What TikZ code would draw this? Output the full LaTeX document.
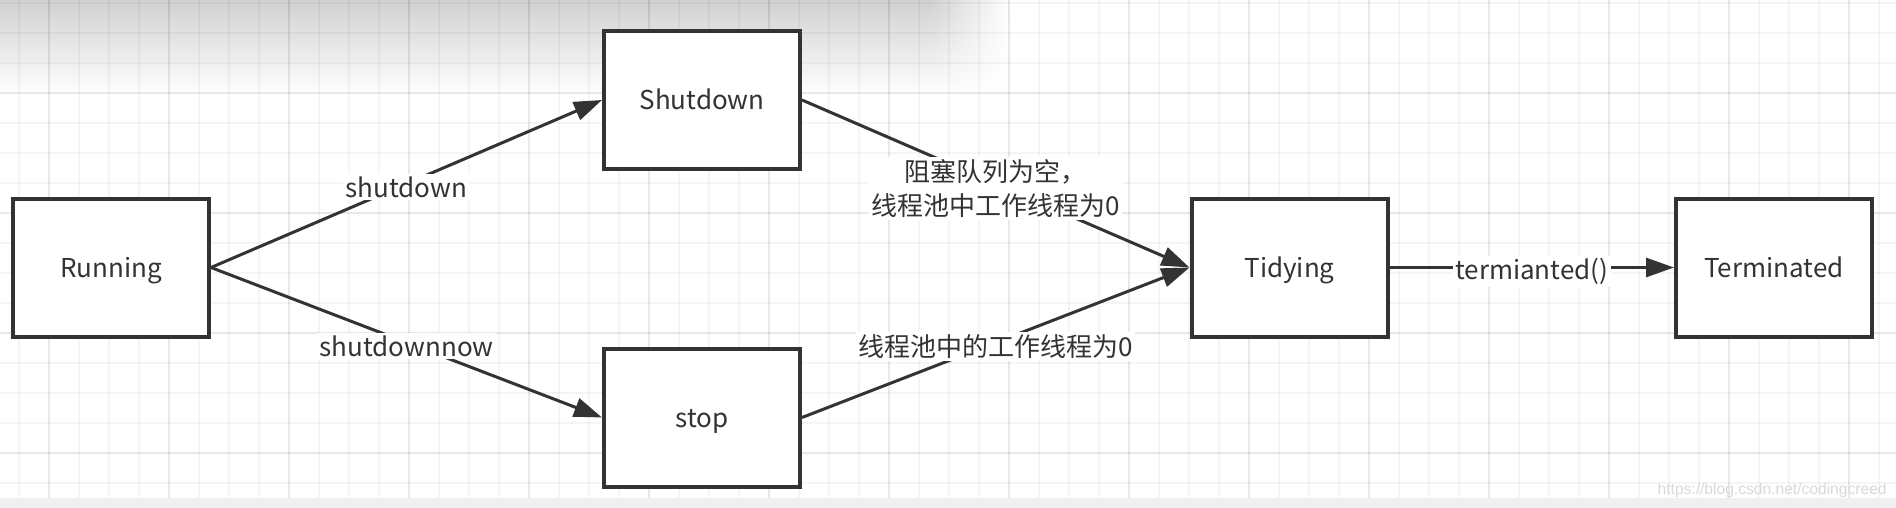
\documentclass[tikz,border=0pt]{standalone}
\usepackage{fontspec}
\setmainfont{Noto Sans CJK SC}
\newfontfamily\wmfont{Liberation Sans}
\usetikzlibrary{arrows.meta,fadings}
\definecolor{ink}{HTML}{333333}
\tikzfading[name=fadeR, left color=transparent!0, right color=transparent!100]
\begin{document}
\begin{tikzpicture}[x=0.5pt,y=-0.5pt,
  state/.style={draw=ink, fill=white, line width=2pt, minimum width=98pt, minimum height=69pt, inner sep=0pt, text height=12.2pt, text depth=2.3pt, text=ink, font=\fontsize{13}{17}\selectfont},
  edge/.style={draw=ink, line width=1.5pt, -{Triangle[length=14pt,width=9.5pt]}},
  lbl/.style={fill=white, text=ink, inner sep=1.2pt, yshift=-1.8pt, font=\fontsize{13}{17}\selectfont, align=center},
  gridminor/.style={draw=black, opacity=0.04, line width=0.6pt},
  gridmajor/.style={draw=black, opacity=0.05, line width=0.8pt}]
\useasboundingbox (0,0) rectangle (1896,508);
\fill[white] (0,0) rectangle (1896,508);
% top shadow
\shade[top color=black!18, bottom color=white] (0,0) rectangle (930,95);
\shade[top color=black!18, bottom color=white, path fading=fadeR] (930,0) rectangle (1010,95);
% grid
\foreach \x in {19,49,...,1879} \draw[gridminor] (\x,0) -- (\x,498);
\foreach \x in {49,169,...,1849} \draw[gridmajor] (\x,0) -- (\x,498);
\foreach \y in {3,33,...,483} \draw[gridminor] (0,\y) -- (1896,\y);
\foreach \y in {93,213,333,453} \draw[gridmajor] (0,\y) -- (1896,\y);
% bottom band
\fill[black!6] (0,498) rectangle (1896,508);
\node[anchor=base east, inner sep=0pt, font=\wmfont\fontsize{7.8}{9}\selectfont, text=black!15] (wm) at (1887,494) {https://blog.csdn.net/codingcreed};
% states
\node[state] (run) at (111,267.5) {Running};
\node[state] (shut) at (702,100) {Shutdown};
\node[state] (stop) at (702,417.5) {stop};
\node[state] (tidy) at (1289.5,267.5) {Tidying};
\node[state] (term) at (1774,267.5) {Terminated};
% transitions
\draw[edge] (run.east) -- node[lbl] {shutdown} (shut.west);
\draw[edge] (run.east) -- node[lbl] {shutdownnow} (stop.west);
\draw[edge] (shut.east) -- node[lbl, yshift=-0.6pt] {阻塞队列为空，\\线程池中工作线程为0} (tidy.west);
\draw[edge] (stop.east) -- node[lbl] {线程池中的工作线程为0} (tidy.west);
\draw[edge] (tidy.east) -- node[lbl] {termianted()} (term.west);
\end{tikzpicture}
\end{document}
